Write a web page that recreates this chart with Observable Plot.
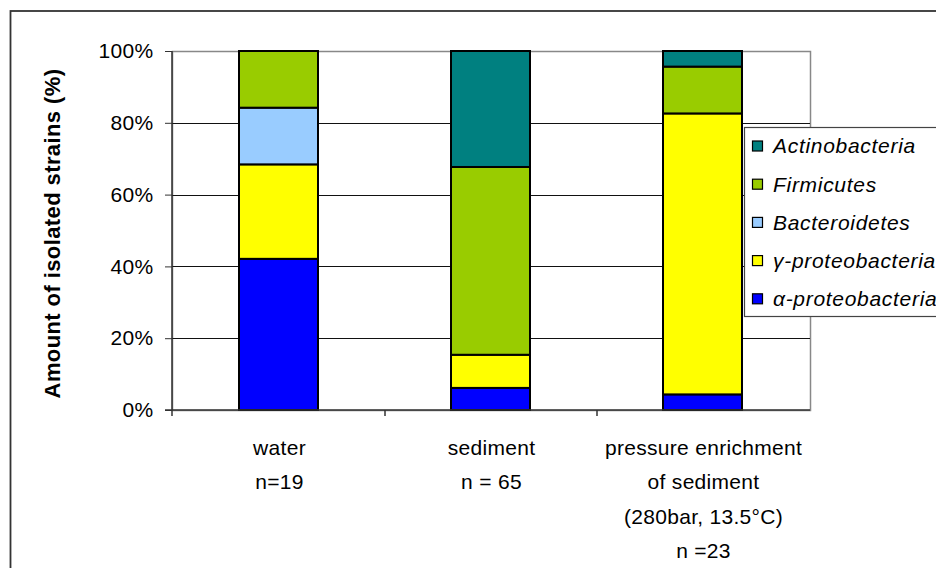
<!DOCTYPE html>
<html>
<head>
<meta charset="utf-8">
<script src="https://cdn.jsdelivr.net/npm/d3@7"></script>
<script src="https://cdn.jsdelivr.net/npm/@observablehq/plot@0.6"></script>
<style>
  html, body { margin: 0; padding: 0; background: white; }
  #chart svg { display: block; }
</style>
</head>
<body>
<div id="chart"></div>
<script>
// Categories (x) and their multi-line labels
const sites = ["water", "sediment", "pressure"];
const siteLabels = [
  "water\nn=19",
  "sediment\nn = 65",
  "pressure enrichment\nof sediment\n(280bar, 13.5°C)\nn =23"
];
// Series, bottom to top of the stack
const taxa = ["α-proteobacteria", "γ-proteobacteria", "Bacteroidetes", "Firmicutes", "Actinobacteria"];
const taxaColors = ["#0000FF", "#FFFF00", "#99CCFF", "#99CC00", "#008080"];
// Number of isolated strains per taxon (same order as taxa)
const waterCounts = [8, 5, 3, 3, 0];
const sedimentCounts = [4, 6, 0, 34, 21];
const pressureCounts = [1, 18, 0, 3, 1];
const yTicks = [0, 0.2, 0.4, 0.6, 0.8, 1];
const yTitle = "Amount of isolated strains (%)";

const countsBySite = [waterCounts, sedimentCounts, pressureCounts];
const table = [];
sites.forEach((s, i) => taxa.forEach((t, j) => {
  if (countsBySite[i][j] > 0) table.push({site: s, taxon: t, count: countsBySite[i][j]});
}));

const FS = 21;
const chart = Plot.plot({
  width: 936,
  height: 568,
  marginLeft: 172,
  marginRight: 126,
  marginTop: 51,
  marginBottom: 158,
  style: {fontFamily: "'Liberation Sans', Arial, sans-serif", fontSize: FS + "px", background: "white", color: "black", overflow: "visible", letterSpacing: "0.3px"},
  x: {domain: sites, padding: 0, axis: null},
  y: {domain: [0, 1], axis: null},
  color: {domain: taxa, range: taxaColors},
  marks: [
    Plot.frame({stroke: "#888", strokeWidth: 1.5}),
    Plot.gridY(yTicks.filter(d => d > 0 && d < 1), {stroke: "#111", strokeOpacity: 1, strokeWidth: 1, shapeRendering: "crispEdges"}),
    Plot.barY(table, Plot.stackY(
      {offset: "normalize", order: taxa},
      {x: "site", y: "count", fill: "taxon", stroke: "black", strokeWidth: 2, insetLeft: 66, insetRight: 67}
    )),
    Plot.axisY({ticks: yTicks, tickSize: 7, tickPadding: 12, fontSize: FS, tickFormat: d3.format(".0%"), label: null, stroke: "#333"}),
    Plot.axisX({tickSize: 0, tickPadding: 20, fontSize: FS, lineHeight: 1.64, label: null,
      tickFormat: d => siteLabels[sites.indexOf(d)]})
  ]
});

const svg = d3.select(chart);
const xs = chart.scale("x");
const ys = chart.scale("y");
const [x0, x1] = [d3.min(xs.range), d3.max(xs.range)];
const yBottom = ys.apply(0), yTop = ys.apply(1);

// Outer chart-area border (behind everything)
svg.insert("rect", ":first-child")
  .attr("x", 10.5).attr("y", 11).attr("width", 1000).attr("height", 1000)
  .attr("fill", "white").attr("stroke", "#333").attr("stroke-width", 1.8);

// Axis lines (left and bottom)
const axes = svg.append("g").attr("stroke", "#333").attr("stroke-width", 1.5);
axes.append("line").attr("x1", x0).attr("x2", x0).attr("y1", yTop).attr("y2", yBottom + 6);
axes.append("line").attr("x1", x0 - 7).attr("x2", x1).attr("y1", yBottom).attr("y2", yBottom);
// x ticks at category boundaries
const bounds = sites.map(s => xs.apply(s)).concat([xs.apply(sites[sites.length - 1]) + xs.bandwidth]);
bounds.slice(1, -1).forEach(b => {
  axes.append("line").attr("x1", b).attr("x2", b).attr("y1", yBottom).attr("y2", yBottom + 6);
});

// Y axis title
svg.append("text")
  .attr("transform", `translate(60,${(yTop + yBottom) / 2 + 3}) rotate(-90)`)
  .attr("text-anchor", "middle")
  .attr("font-weight", "bold")
  .attr("font-size", 22)
  .attr("letter-spacing", "0.4px")
  .attr("fill", "black")
  .text(yTitle);

// Legend (top of stack first)
const lg = svg.append("g").attr("text-anchor", "start");
lg.append("rect").attr("x", 744.5).attr("y", 127.5).attr("width", 300).attr("height", 189)
  .attr("fill", "white").attr("stroke", "#444").attr("stroke-width", 1.2);
taxa.slice().reverse().forEach((t, i) => {
  const cy = 146 + i * 38.2;
  lg.append("rect").attr("x", 752.5).attr("y", cy - 5).attr("width", 10).attr("height", 10)
    .attr("fill", taxaColors[taxa.indexOf(t)]).attr("stroke", "black").attr("stroke-width", 1.2);
  lg.append("text").attr("x", 773).attr("y", cy).attr("dy", "0.35em")
    .attr("text-anchor", "start")
    .attr("font-style", "italic").attr("font-size", FS).attr("letter-spacing", "0.7px").attr("fill", "black")
    .text(t);
});

document.getElementById("chart").appendChild(chart);
</script>
</body>
</html>
